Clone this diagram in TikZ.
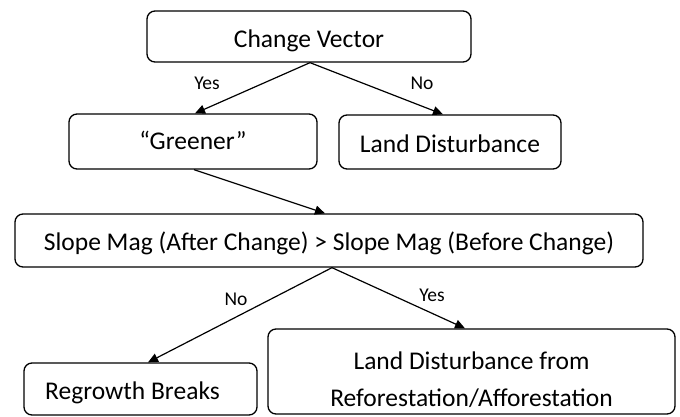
\documentclass[tikz,border=0pt]{standalone}
\usepackage{fontspec}
\setmainfont{Carlito}
\usetikzlibrary{arrows.meta}
\tikzset{
  box/.style={draw, line width=1.3pt, rounded corners=8pt, inner sep=0pt, align=center, text depth=0pt, font=\fontsize{25.5}{37}\selectfont},
  txt/.style={inner sep=0pt, align=center, font=\fontsize{25.5}{37}\selectfont},
  arr/.style={line width=1.2pt, -{Triangle[length=10pt,width=9pt]}},
  lbl/.style={inner sep=0pt, font=\fontsize{19.5}{22}\selectfont}
}
\begin{document}
\begin{tikzpicture}[x=1pt,y=-1pt]
\useasboundingbox (0,0) rectangle (680,416);
\node[box, text height=22.4pt, minimum width=324pt, minimum height=51pt] (cv) at (309,36.5) {Change Vector};
\node[box, text height=16.4pt, minimum width=248pt, minimum height=55pt] (gr) at (193,141.5) {“Greener”};
\node[box, text height=21.4pt, minimum width=222pt, minimum height=54pt] (ld) at (450,142) {Land Disturbance};
\node[box, text height=20.4pt, minimum width=628pt, minimum height=53pt] (sl) at (329,240.5) {Slope Mag (After Change) > Slope Mag (Before Change)};
\node[box, text height=21.4pt, minimum width=233pt, minimum height=52pt] (rg) at (140.5,389) {\hspace*{-16pt}Regrowth Breaks};
\node[box, minimum width=407pt, minimum height=85pt] (lf) at (471.5,371.5) {};
\node[txt] (lft) at ([yshift=-8.5pt]lf.center) {Land Disturbance from\\Reforestation/Afforestation};
\draw[arr] ([xshift=1pt]cv.south) -- ([xshift=2pt]gr.north);
\draw[arr] ([xshift=1pt]cv.south) -- ([xshift=-7pt]ld.north);
\draw[arr] ([xshift=1pt]gr.south) -- ([xshift=-4pt]sl.north);
\draw[arr] ([xshift=3pt]sl.south) -- ([xshift=7.5pt]rg.north);
\draw[arr] ([xshift=3pt]sl.south) -- ([xshift=-6.5pt]lf.north);
\node[lbl] (y1) at (207,83) {Yes};
\node[lbl] (n1) at (422,83) {No};
\node[lbl] (n2) at (236,299) {No};
\node[lbl] (y2) at (432,295) {Yes};
\end{tikzpicture}
\end{document}
